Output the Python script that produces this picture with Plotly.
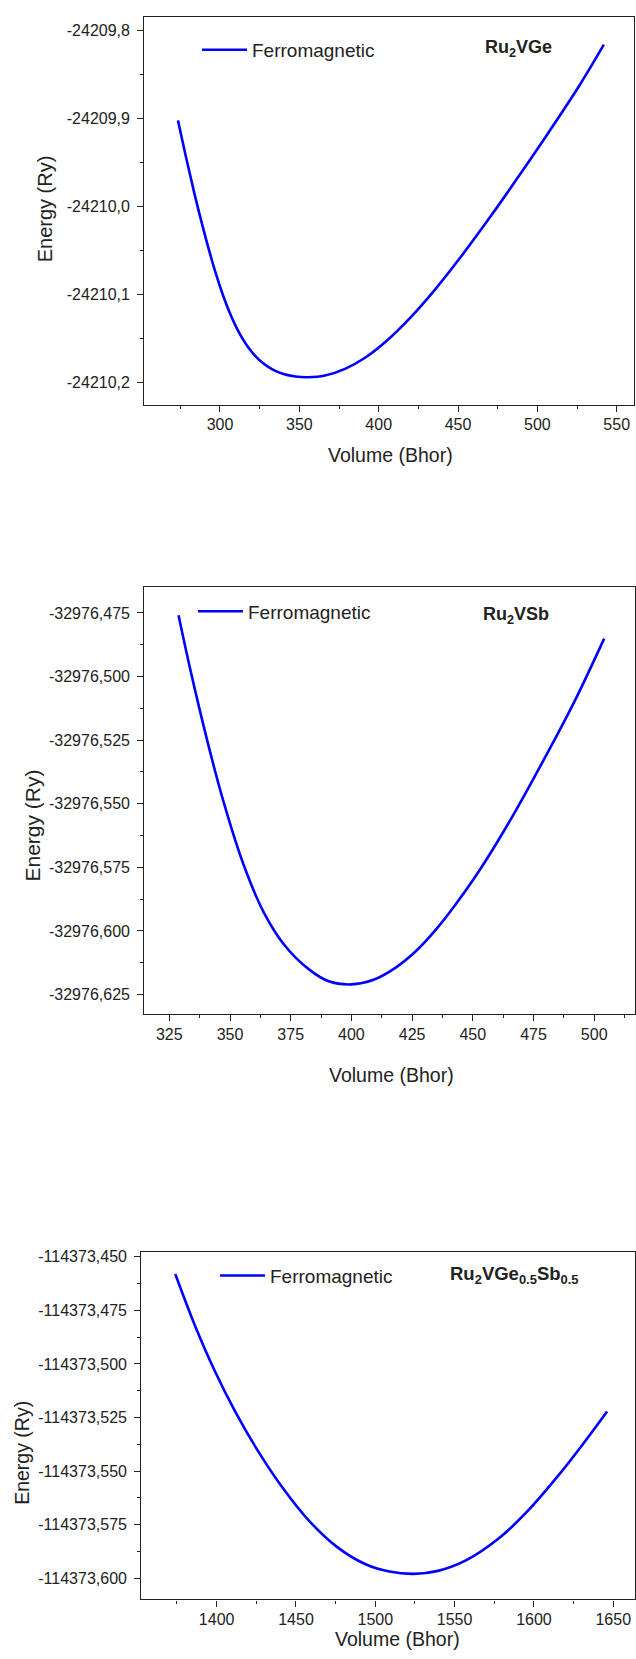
import plotly.graph_objects as go

W, H = 636, 1659

# ---------------- data ----------------
vol_ge = [273.5, 278.6, 283.6, 288.7, 293.7, 298.0, 302.0, 306.0, 310.0, 314.0, 318.0,
          322.0, 327.0, 333.0, 340.0, 347.5, 355.4, 366.2, 378.8, 391.4, 404.0, 419.7,
          435.5, 451.2, 470.1, 489.0, 507.9, 526.8, 541.9]
en_ge = [-24209.902, -24209.944, -24209.983, -24210.020, -24210.0535, -24210.0797,
         -24210.1013, -24210.1201, -24210.1361, -24210.1495, -24210.1605, -24210.1693,
         -24210.1778, -24210.1850, -24210.1903, -24210.1931, -24210.1939, -24210.1920,
         -24210.1844, -24210.1718, -24210.1542, -24210.1267, -24210.0943, -24210.0585,
         -24210.0122, -24209.9636, -24209.9135, -24209.8615, -24209.8160]

vol_sb = [328.8, 333.8, 340.5, 347.2, 355.6, 364.0, 372.3, 382.4, 390.7, 400.0, 409.1,
          418.1, 426.4, 434.7, 442.9, 451.2, 459.4, 467.7, 475.9, 484.2, 492.4, 504.1]
en_sb = [-32976.4759, -32976.4979, -32976.5247, -32976.5488, -32976.5740, -32976.5929,
         -32976.6054, -32976.6150, -32976.6198, -32976.6210, -32976.6192, -32976.6145,
         -32976.6081, -32976.5996, -32976.5896, -32976.5784, -32976.5661, -32976.5527,
         -32976.5386, -32976.5239, -32976.5088, -32976.4851]

vol_gesb = [1373.9, 1386.1, 1398.9, 1411.7, 1427.0, 1442.4, 1457.7, 1475.6, 1493.5, 1508.9,
            1524.2, 1539.5, 1557.4, 1577.9, 1595.8, 1616.2, 1631.6, 1646.1]
en_gesb = [-114373.4581, -114373.4817, -114373.5034, -114373.5222, -114373.5417, -114373.5586,
           -114373.5727, -114373.5852, -114373.5933, -114373.5968, -114373.5979, -114373.5965,
           -114373.5915, -114373.5813, -114373.5688, -114373.5513, -114373.5367, -114373.5222]

series_name = "Ferromagnetic"
compound_labels = ["<b>Ru<sub>2</sub>VGe</b>", "<b>Ru<sub>2</sub>VSb</b>",
                   "<b>Ru<sub>2</sub>VGe<sub>0.5</sub>Sb<sub>0.5</sub></b>"]

x_ticks_ge = [300, 350, 400, 450, 500, 550]
y_ticks_ge = [-24209.8, -24209.9, -24210.0, -24210.1, -24210.2]
y_text_ge = ["-24209,8", "-24209,9", "-24210,0", "-24210,1", "-24210,2"]

x_ticks_sb = [325, 350, 375, 400, 425, 450, 475, 500]
y_ticks_sb = [-32976.475, -32976.500, -32976.525, -32976.550, -32976.575, -32976.600, -32976.625]
y_text_sb = ["-32976,475", "-32976,500", "-32976,525", "-32976,550", "-32976,575",
             "-32976,600", "-32976,625"]

x_ticks_gesb = [1400, 1450, 1500, 1550, 1600, 1650]
y_ticks_gesb = [-114373.450, -114373.475, -114373.500, -114373.525, -114373.550,
                -114373.575, -114373.600]
y_text_gesb = ["-114373,450", "-114373,475", "-114373,500", "-114373,525", "-114373,550",
               "-114373,575", "-114373,600"]

# ---------------- layout helpers ----------------
FONT = "Arial, Liberation Sans, sans-serif"
TXT = "#222222"


def px_x(p):
    return p / W


def px_y(p):
    return 1 - p / H


panels = [
    dict(vol=vol_ge, en=en_ge, xt=x_ticks_ge, yt=y_ticks_ge, ytxt=y_text_ge,
         box=(144.3, 634, 14, 402.3), xr=[252.3, 560.9], yr=[-24210.225, -24209.7845],
         xminor=25, yminor=0.05, xtitle=(390, 453.3), ytitle=(45, 206.7, 20),
         leg=(197, 47), lab=(518, 45.5), labsize=18),
    dict(vol=vol_sb, en=en_sb, xt=x_ticks_sb, yt=y_ticks_sb, ytxt=y_text_sb,
         box=(144.3, 635, 585, 1013), xr=[314.7, 516.8], yr=[-32976.6327, -32976.4648],
         xminor=12.5, yminor=0.0125, xtitle=(391.5, 1074.3), ytitle=(33, 824, 21),
         leg=(193, 609.5), lab=(516, 614), labsize=18),
    dict(vol=vol_gesb, en=en_gesb, xt=x_ticks_gesb, yt=y_ticks_gesb, ytxt=y_text_gesb,
         box=(141.3, 635, 1251, 1599.3), xr=[1352.5, 1663.7], yr=[-114373.6098, -114373.4477],
         xminor=25, yminor=0.0125, xtitle=(397.5, 1638.5), ytitle=(22.5, 1453, 19.5),
         leg=(215, 1275), lab=(514, 1274), labsize=18.5),
]

fig = go.Figure()
annotations = []
layout = dict(
    width=W, height=H, margin=dict(l=0, r=0, t=0, b=0),
    paper_bgcolor="white", plot_bgcolor="white",
    font=dict(family=FONT, color=TXT),
    showlegend=True,
)

for i, p in enumerate(panels, start=1):
    sfx = "" if i == 1 else str(i)
    legname = "legend" if i == 1 else f"legend{i}"
    fig.add_trace(go.Scatter(
        x=p["vol"], y=p["en"], mode="lines", name=series_name,
        line=dict(color="#0000FF", width=2.6, shape="spline", smoothing=1.0),
        xaxis=f"x{sfx}", yaxis=f"y{sfx}", legend=legname, showlegend=True,
    ))
    x0, x1, y0, y1 = p["box"]
    axis_common = dict(
        showline=True, linecolor="#222222", linewidth=1.3, mirror=True,
        showgrid=False, zeroline=False, ticks="outside", ticklen=6, tickwidth=1,
        tickcolor="#222222", tickfont=dict(size=16, family=FONT, color=TXT),
    )
    layout[f"xaxis{sfx}"] = dict(
        axis_common, domain=[px_x(x0), px_x(x1)], range=p["xr"], anchor=f"y{sfx}",
        tickmode="array", tickvals=p["xt"], ticktext=[str(v) for v in p["xt"]],
        minor=dict(ticks="outside", ticklen=3, tickwidth=1, tickcolor="#222222",
                   dtick=p["xminor"], tick0=p["xt"][0], showgrid=False),
        ticklabelstandoff=-1,
    )
    layout[f"yaxis{sfx}"] = dict(
        axis_common, domain=[px_y(y1), px_y(y0)], range=p["yr"], anchor=f"x{sfx}",
        tickmode="array", tickvals=p["yt"], ticktext=p["ytxt"],
        minor=dict(ticks="outside", ticklen=3, tickwidth=1, tickcolor="#222222",
                   dtick=p["yminor"], tick0=p["yt"][0], showgrid=False),
        ticklabelstandoff=4,
    )
    lx, ly = p["leg"]
    layout[legname] = dict(
        x=px_x(lx), y=px_y(ly), xanchor="left", yanchor="middle",
        bgcolor="rgba(0,0,0,0)", borderwidth=0,
        font=dict(size=19, family=FONT, color=TXT), itemwidth=45,
        tracegroupgap=0,
    )
    # axis titles
    tx, ty = p["xtitle"]
    annotations.append(dict(
        text="Volume (Bhor)", x=px_x(tx), y=px_y(ty), xref="paper", yref="paper",
        xanchor="center", yanchor="middle", showarrow=False,
        font=dict(size=19.5, family=FONT, color=TXT)))
    yx, yy, ys = p["ytitle"]
    annotations.append(dict(
        text="Energy (Ry)", x=px_x(yx), y=px_y(yy), xref="paper", yref="paper",
        xanchor="center", yanchor="middle", showarrow=False, textangle=-90,
        font=dict(size=ys, family=FONT, color=TXT)))
    # compound label
    cx, cy = p["lab"]
    annotations.append(dict(
        text=compound_labels[i - 1], x=px_x(cx), y=px_y(cy), xref="paper", yref="paper",
        xanchor="center", yanchor="middle", showarrow=False,
        font=dict(size=p["labsize"], family=FONT, color=TXT)))

layout["annotations"] = annotations
fig.update_layout(**layout)
fig.write_html("out.html")
